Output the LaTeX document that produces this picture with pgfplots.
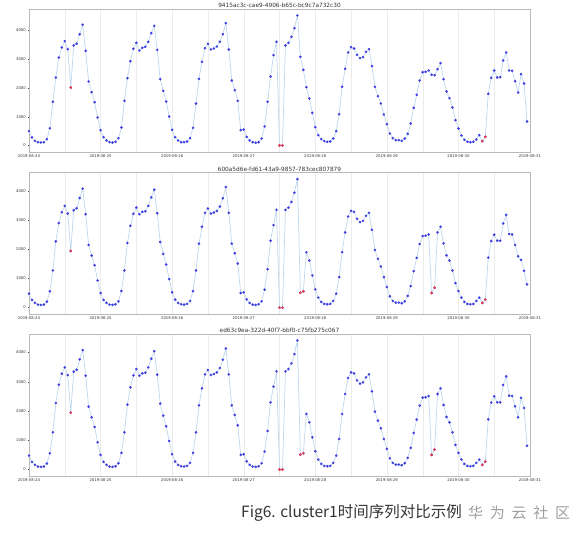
\documentclass[border=0pt]{standalone}
\usepackage{fontspec}
\setmainfont{DejaVu Sans}
\newfontfamily\cjk{Noto Sans CJK SC}
\usepackage{pgfplots}
\usepackage{pgfplotstable}
\pgfplotsset{compat=1.18}

\definecolor{ln}{RGB}{190,215,240}
\definecolor{bd}{RGB}{60,60,225}
\definecolor{rd}{RGB}{240,60,70}
\definecolor{fr}{RGB}{185,185,185}

% hourly values, 2019-08-24 00:00 ... 2019-08-30 23:00
\pgfplotstableread[row sep=\\]{
v\\
500\\280\\160\\115\\105\\115\\220\\600\\1520\\2365\\3060\\3410\\3630\\3350\\2017\\3480\\3540\\3870\\4200\\3290\\2226\\1855\\1507\\974\\
533\\290\\174\\116\\104\\128\\255\\626\\1553\\2342\\2933\\3362\\3571\\3304\\3397\\3432\\3606\\3907\\4162\\3327\\2307\\1901\\1530\\1009\\
545\\290\\174\\116\\116\\139\\255\\614\\1460\\2319\\2910\\3385\\3536\\3339\\3374\\3443\\3606\\3872\\4255\\3339\\2261\\1925\\1553\\533\\
556\\301\\174\\116\\93\\116\\243\\661\\1519\\2400\\3142\\3606\\0\\0\\3478\\3571\\3780\\4081\\4522\\3084\\2632\\2029\\1635\\1136\\
638\\359\\220\\151\\128\\139\\243\\499\\1090\\2041\\2667\\3235\\3420\\3374\\3154\\3038\\3072\\3258\\3351\\2759\\2041\\1716\\1461\\1078\\
742\\417\\255\\186\\186\\162\\243\\406\\765\\1310\\1762\\2261\\2551\\2562\\2609\\2458\\2446\\2655\\2864\\2307\\1878\\1646\\1322\\881\\
591\\348\\197\\128\\116\\128\\209\\359\\151\\301\\1797\\2354\\2609\\2365\\2377\\2957\\3235\\2609\\2597\\2238\\1843\\2481\\2157\\835\\
}\serA

\pgfplotstableread[row sep=\\]{
v\\
477\\261\\159\\102\\91\\102\\205\\557\\1273\\2273\\2898\\3273\\3489\\3227\\1943\\3341\\3409\\3761\\4080\\3205\\2148\\1784\\1455\\932\\
500\\261\\159\\102\\91\\114\\216\\568\\1273\\2216\\2807\\3216\\3432\\3205\\3284\\3307\\3489\\3784\\4045\\3239\\2250\\1841\\1477\\977\\
523\\273\\159\\114\\102\\125\\227\\568\\1273\\2193\\2773\\3250\\3398\\3227\\3261\\3318\\3466\\3750\\4136\\3250\\2193\\1864\\1511\\500\\
523\\284\\159\\102\\91\\114\\216\\614\\1318\\2295\\2830\\3352\\0\\0\\3352\\3432\\3625\\3943\\4409\\511\\557\\1898\\1614\\1102\\
625\\341\\193\\125\\114\\125\\227\\477\\1045\\1898\\2580\\3125\\3318\\3284\\3045\\2932\\2977\\3148\\3250\\2670\\1977\\1670\\1409\\1045\\
705\\386\\227\\170\\170\\148\\216\\398\\739\\1250\\1705\\2182\\2455\\2466\\2511\\500\\682\\2580\\2773\\2205\\1795\\1614\\1273\\841\\
568\\341\\193\\125\\114\\125\\227\\341\\159\\273\\1716\\2284\\2500\\2295\\2295\\2886\\3182\\2523\\2511\\2148\\1761\\1636\\1261\\795\\
}\serB

\pgfplotstableread[row sep=\\]{
v\\
477\\261\\159\\102\\91\\102\\205\\557\\1273\\2273\\2898\\3273\\3489\\3227\\1943\\3341\\3409\\3761\\4080\\3205\\2148\\1784\\1455\\932\\
500\\261\\159\\102\\91\\114\\216\\568\\1273\\2216\\2807\\3216\\3432\\3205\\3284\\3307\\3489\\3784\\4045\\3239\\2250\\1841\\1477\\977\\
523\\273\\159\\114\\102\\125\\227\\568\\1273\\2193\\2773\\3250\\3398\\3227\\3261\\3318\\3466\\3750\\4136\\3250\\2193\\1864\\1511\\500\\
523\\284\\159\\102\\91\\114\\216\\614\\1318\\2295\\2830\\3352\\0\\0\\3352\\3432\\3625\\3943\\4409\\511\\557\\1898\\1614\\1102\\
625\\341\\193\\125\\114\\125\\227\\477\\1045\\1898\\2580\\3125\\3318\\3284\\3045\\2932\\2977\\3148\\3250\\2670\\1977\\1670\\1409\\1045\\
705\\386\\227\\170\\170\\148\\216\\398\\739\\1250\\1705\\2182\\2455\\2466\\2511\\500\\682\\2580\\2773\\2205\\1795\\1614\\1273\\841\\
568\\341\\193\\125\\114\\125\\227\\341\\159\\273\\1716\\2284\\2500\\2295\\2295\\2886\\3182\\2523\\2511\\2160\\1783\\2446\\2103\\811\\
}\serC

\pgfplotstableread[row sep=\\]{
h v\\
14 2017\\ 84 0\\ 85 0\\ 152 151\\ 153 301\\
}\redA

\pgfplotstableread[row sep=\\]{
h v\\
14 1943\\ 84 0\\ 85 0\\ 91 511\\ 92 557\\ 135 500\\ 136 682\\ 152 159\\ 153 273\\
}\redB

\pgfplotsset{panel/.style={
  scale only axis, width=501pt,
  xmin=0, xmax=168,
  xtick={0,24,...,168},
  xticklabels={2019-08-24,2019-08-25,2019-08-26,2019-08-27,2019-08-28,2019-08-29,2019-08-30,2019-08-31},
  minor xtick={12,36,...,156},
  xmajorgrids, xminorgrids,
  major grid style={draw=black!8, line width=0.3pt},
  minor grid style={draw=black!8, line width=0.3pt},
  ytick={0,1000,2000,3000,4000},
  scaled y ticks=false,
  /pgf/number format/assume math mode=true,
  /pgf/number format/1000 sep={},
  tick label style={font=\fontsize{3.8}{4}\selectfont, text=black!80},
  xticklabel style={inner sep=1pt},
  yticklabel style={inner sep=1.5pt},
  tick align=outside, major tick length=1.5pt, minor tick length=0pt,
  tick style={draw=black!70, line width=0.3pt},
  xtick pos=bottom, ytick pos=left,
  axis line style={draw=fr, line width=0.6pt},
  every axis title shift=0pt,
  title style={font=\fontsize{5.8}{6}\selectfont, text=black!80, at={(0.5,1)}, anchor=south, inner sep=1.2pt},
  bmark/.style={color=bd, only marks, mark=*, mark size=1.25pt, mark options={draw=bd, fill=bd, line width=0.1pt}},
  rmark/.style={color=rd, only marks, mark=*, mark size=1.25pt, mark options={draw=rd, fill=rd, line width=0.1pt}},
}}

\begin{document}
\begin{tikzpicture}
\useasboundingbox (0,0) rectangle (585pt,537pt);

\begin{axis}[panel, at={(29pt,528pt)}, anchor=north west, height=143pt,
  ymin=-226, ymax=4748, title={9415ac3c-cae9-4906-b65c-bc9c7a732c30}]
\addplot[color=ln, line width=0.7pt, no marks] table[x expr=\coordindex, y=v]{\serA};
\addplot[bmark] table[x expr=\coordindex, y=v]{\serA};
\addplot[rmark] table[x=h, y=v]{\redA};
\end{axis}

\begin{axis}[panel, at={(29pt,364.3pt)}, anchor=north west, height=141.3pt,
  ymin=-220, ymax=4629, title={600a5d6e-fd61-43a9-9857-783cec807879}]
\addplot[color=ln, line width=0.7pt, no marks] table[x expr=\coordindex, y=v]{\serB};
\addplot[bmark] table[x expr=\coordindex, y=v]{\serB};
\addplot[rmark] table[x=h, y=v]{\redB};
\end{axis}

\begin{axis}[panel, at={(29pt,203pt)}, anchor=north west, height=142pt,
  ymin=-220, ymax=4629, title={ed63c9ea-322d-40f7-bbf0-c75fb275c067}]
\addplot[color=ln, line width=0.7pt, no marks] table[x expr=\coordindex, y=v]{\serC};
\addplot[bmark] table[x expr=\coordindex, y=v]{\serC};
\addplot[rmark] table[x=h, y=v]{\redB};
\end{axis}

\node[anchor=west, inner sep=0pt, font=\cjk\fontsize{15.5}{18}\selectfont, text=black!80] at (241pt,24pt) {Fig6. cluster1时间序列对比示例};
\node[anchor=west, inner sep=0pt, font=\cjk\fontsize{15}{18}\selectfont, text=black!38] at (468pt,24pt) {华\hspace{0.45em}为\hspace{0.45em}云\hspace{0.45em}社\hspace{0.45em}区};
\end{tikzpicture}
\end{document}
